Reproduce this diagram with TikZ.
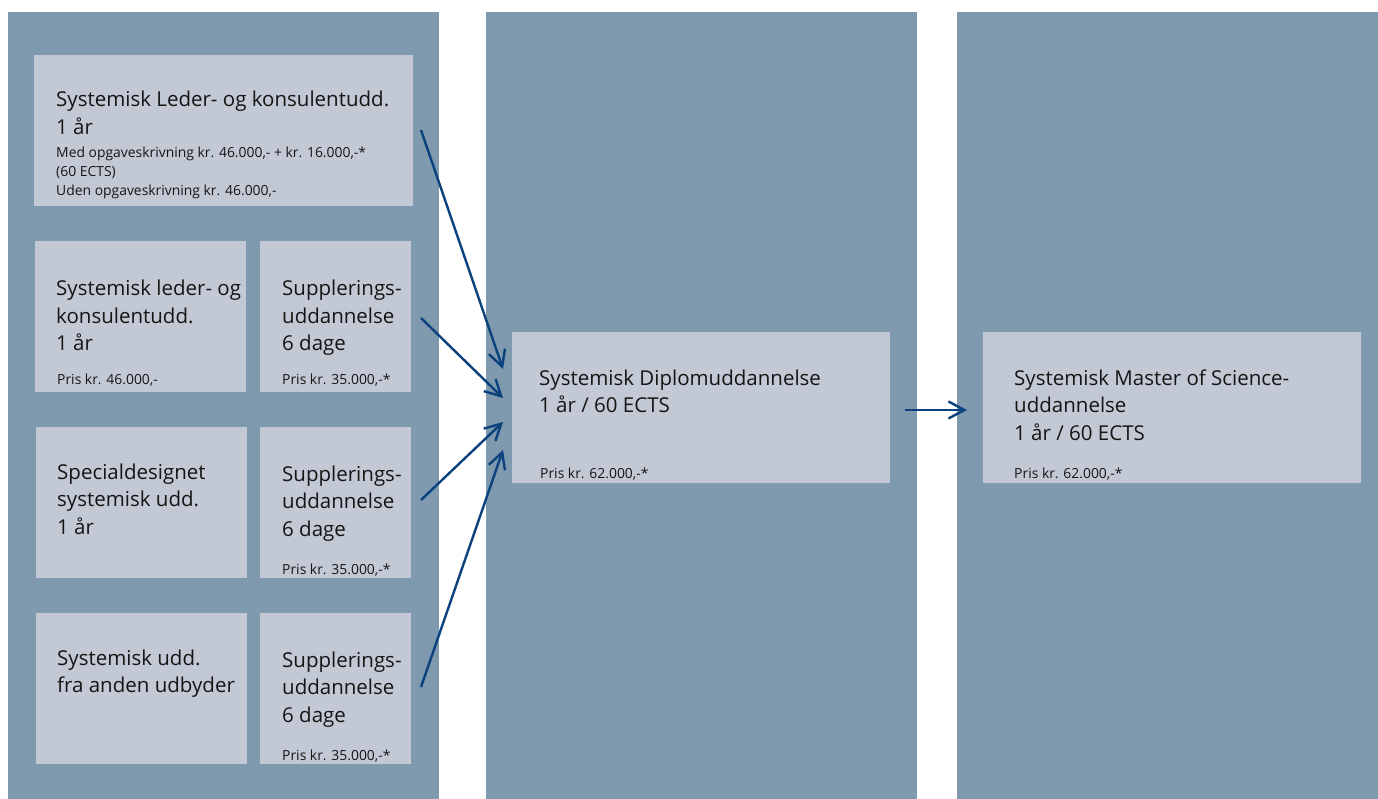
\documentclass[tikz,border=0pt]{standalone}
\usepackage{fontspec}
\setmainfont{Open Sans}
\usetikzlibrary{arrows.meta}
\definecolor{colbg}{HTML}{7F99AE}
\definecolor{boxbg}{HTML}{C3C9D4}
\definecolor{arr}{HTML}{0B427E}
\definecolor{txt}{HTML}{151515}
\newcommand{\bigtxt}{\fontsize{20.5}{27.5}\selectfont}
\newcommand{\smalltxt}{\fontsize{13.9}{19}\selectfont}
\newcommand{\stack}[1]{\begin{tabular}[t]{@{}l@{}}#1\end{tabular}}
\begin{document}
\begin{tikzpicture}[x=1pt,y=-1pt,
 col/.style={fill=colbg, draw=none},
 box/.style={fill=boxbg, draw=none, anchor=north west, inner sep=0pt, minimum height=151pt},
 title/.style={anchor=base west, inner sep=0pt, font=\bigtxt, text=txt},
 price/.style={anchor=base west, inner sep=0pt, font=\smalltxt, text=txt},
 link/.style={draw=arr, line width=2.4pt, -{Straight Barb[length=16pt,width=17pt]}}]
\useasboundingbox (0,0) rectangle (1378,799);
\fill[white] (0,0) rectangle (1378,799);
% columns
\fill[col] (8,12) rectangle (439,799);
\fill[col] (486,12) rectangle (917,799);
\fill[col] (957,12) rectangle (1378,799);
% boxes
\node[box, minimum width=379pt] (bA) at (34,55) {};
\node[box, minimum width=211pt] (bB1) at (35,241) {};
\node[box, minimum width=151pt] (bB2) at (260,241) {};
\node[box, minimum width=211pt] (bC1) at (36,427) {};
\node[box, minimum width=151pt] (bC2) at (260,427) {};
\node[box, minimum width=211pt] (bD1) at (36,613) {};
\node[box, minimum width=151pt] (bD2) at (260,613) {};
\node[box, minimum width=378pt] (dip) at (512,332) {};
\node[box, minimum width=378pt] (mas) at (983,332) {};
% texts
\node[title] (tA) at (56,107) {\stack{Systemisk Leder- og konsulentudd.\\1 år}};
\node[price] (pA) at (56,158) {\stack{Med opgaveskrivning kr. 46.000,- + kr. 16.000,-*\\(60 ECTS)\\Uden opgaveskrivning kr. 46.000,-}};
\node[title] (tB1) at (56,296) {\stack{Systemisk leder- og\\konsulentudd.\\1 år}};
\node[price] (pB1) at (57,384) {Pris kr. 46.000,-};
\node[title] (tB2) at (282,296) {\stack{Supplerings-\\uddannelse\\6 dage}};
\node[price] (pB2) at (282,384) {Pris kr. 35.000,-*};
\node[title] (tC1) at (57,479) {\stack{Specialdesignet\\systemisk udd.\\1 år}};
\node[title] (tC2) at (282,481) {\stack{Supplerings-\\uddannelse\\6 dage}};
\node[price] (pC2) at (282,574) {Pris kr. 35.000,-*};
\node[title] (tD1) at (57,665) {\stack{Systemisk udd.\\fra anden udbyder}};
\node[title] (tD2) at (282,667) {\stack{Supplerings-\\uddannelse\\6 dage}};
\node[price] (pD2) at (282,760) {Pris kr. 35.000,-*};
\node[title] (tDip) at (539,385) {\stack{Systemisk Diplomuddannelse\\1 år / 60 ECTS}};
\node[price] (pDip) at (540,478) {Pris kr. 62.000,-*};
\node[title] (tMas) at (1014,385) {\stack{Systemisk Master of Science-\\uddannelse\\1 år / 60 ECTS}};
\node[price] (pMas) at (1014,478) {Pris kr. 62.000,-*};
% arrows
\coordinate (s1) at (421,130); \coordinate (e1) at (503,369);
\coordinate (s2) at (421,318); \coordinate (e2) at (503,398);
\coordinate (s3) at (421,500); \coordinate (e3) at (503,422);
\coordinate (s4) at (421,687); \coordinate (e4) at (503,450);
\coordinate (s5) at (905,410); \coordinate (e5) at (967,410);
\draw[link] (s1) -- (e1);
\draw[link] (s2) -- (e2);
\draw[link] (s3) -- (e3);
\draw[link] (s4) -- (e4);
\draw[link] (s5) -- (e5);
\end{tikzpicture}
\end{document}
